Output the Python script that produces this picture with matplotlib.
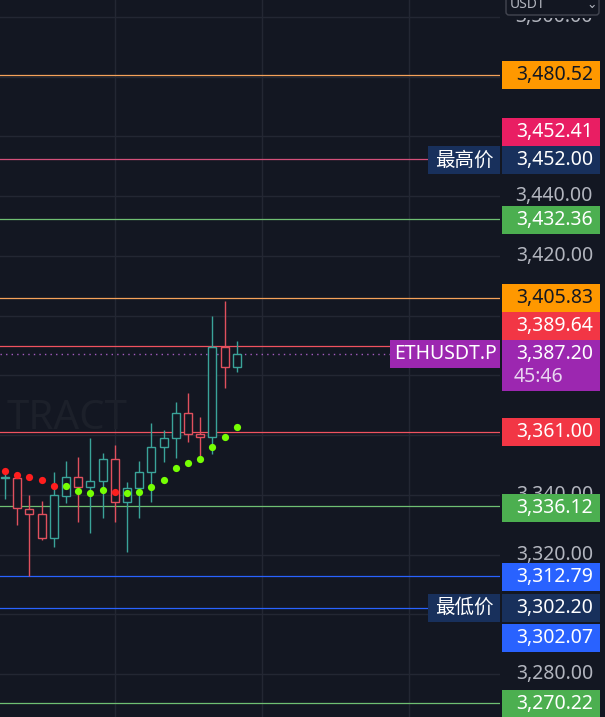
import matplotlib
matplotlib.use("Agg")
import matplotlib.pyplot as plt
from matplotlib.patches import Rectangle, FancyBboxPatch

plt.rcParams['font.family'] = ['Noto Sans', 'Noto Sans CJK SC', 'DejaVu Sans']

# ---------------- data ----------------
opens  = [3345.5, 3345.5, 3335.1, 3333.5, 3325.6, 3339.7, 3345.8, 3342.7, 3344.7, 3351.9,
          3337.5, 3342.4, 3347.5, 3355.9, 3358.9, 3367.3, 3360.2, 3359.3, 3389.3, 3382.7]
highs  = [3347.7, 3347.7, 3339.9, 3337.9, 3347.7, 3351.3, 3352.7, 3358.9, 3353.9, 3356.7,
          3344.2, 3351.3, 3363.9, 3361.7, 3370.9, 3374.0, 3365.9, 3399.8, 3404.9, 3391.5]
lows   = [3338.5, 3329.9, 3312.8, 3324.9, 3322.6, 3337.3, 3331.0, 3327.1, 3332.1, 3331.0,
          3320.9, 3332.3, 3337.5, 3351.1, 3352.2, 3357.8, 3352.2, 3353.5, 3375.8, 3381.2]
closes = [3345.9, 3335.5, 3333.5, 3325.4, 3339.9, 3345.8, 3342.7, 3344.7, 3351.9, 3337.5,
          3342.4, 3347.5, 3355.9, 3358.9, 3367.3, 3360.2, 3359.3, 3389.3, 3382.7, 3387.2]
sar_values = [3348.0, 3346.5, 3345.9, 3344.9, 3342.9, 3342.9, 3341.3, 3340.5, 3341.5, 3340.9,
              3340.7, 3340.9, 3342.7, 3345.0, 3348.9, 3350.7, 3351.9, 3356.1, 3359.4, 3362.8]
sar_up = [False, False, False, False, False, True, True, True, True, False,
          True, True, True, True, True, True, True, True, True, True]

level_values = [3480.52, 3452.41, 3432.36, 3405.83, 3389.64, 3361.00, 3336.12, 3312.79, 3302.07, 3270.22]
level_colors = ['#f5a25a', '#d4507a', '#6fbf72', '#f5a25a', '#f0525f', '#f0525f', '#6fbf72',
                '#2962ff', '#2962ff', '#6fbf72']
# price-scale labels: text, displayed position (stacked), box colour, text colour
label_texts  = ['3,480.52', '3,452.41', '3,452.00', '3,432.36', '3,405.83', '3,389.64',
                '3,361.00', '3,336.12', '3,312.79', '3,302.20', '3,302.07', '3,270.22']
label_pos    = [3480.52, 3461.4, 3451.9, 3432.1, 3406.0, 3396.5,
                3361.0, 3335.7, 3312.5, 3302.1, 3292.2, 3270.1]
label_colors = ['#ff9800', '#e91e63', '#18305c', '#4caf50', '#ff9800', '#f23645',
                '#f23645', '#4caf50', '#2962ff', '#18305c', '#2962ff', '#4caf50']
label_tcolors = ['#131722', 'white', 'white', 'white', '#131722', 'white',
                 'white', 'white', 'white', 'white', 'white', 'white']
tick_values = [3280, 3300, 3320, 3340, 3360, 3380, 3400, 3420, 3440, 3460, 3480, 3500]
high_name, high_price = '最高价', 3452.00
low_name, low_price = '最低价', 3302.20
symbol = 'ETHUSDT.P'
last_price = 3387.20
last_label = '3,387.20'
countdown = '45:46'

# ---------------- style ----------------
BG = '#131722'
GRID = '#232733'
UP = '#3aa399'
DOWN = '#e0505e'
YMIN, YMAX = 3265.61, 3505.61
W, H = 605, 717

fig = plt.figure(figsize=(W / 100, H / 100), dpi=100)
fig.patch.set_facecolor(BG)

ax = fig.add_axes([0, 0, 500 / W, 1])
ax.set_facecolor(BG)
ax.set_ylim(YMIN, YMAX)
ax.set_xlim(-0.41, 40.57)
for s in ax.spines.values():
    s.set_visible(False)
ax.set_yticks(tick_values)
ax.set_xticks([9.0, 21.05, 33.1])
ax.tick_params(left=False, bottom=False, labelleft=False, labelbottom=False)
ax.grid(True, color=GRID, linewidth=1.0)
ax.set_axisbelow(True)

# horizontal level lines
for v, c in zip(level_values, level_colors):
    ax.axhline(v, color=c, linewidth=0.9, zorder=2)
ax.axhline(last_price, color='#a35bbf', linewidth=1.0, linestyle=(0, (1, 3)), zorder=2)

# candles (hollow)
bw = 0.66
for i, (o, h, l, c) in enumerate(zip(opens, highs, lows, closes)):
    col = UP if c >= o else DOWN
    top, bot = max(o, c), min(o, c)
    ax.plot([i, i], [top, h], color=col, linewidth=1.0, zorder=3, solid_capstyle='butt')
    ax.plot([i, i], [l, bot], color=col, linewidth=1.0, zorder=3, solid_capstyle='butt')
    ax.add_patch(Rectangle((i - bw / 2, bot), bw, max(top - bot, 0.3), facecolor=BG,
                           edgecolor=col, linewidth=1.0, zorder=3))

# SAR dots
for i, (v, up) in enumerate(zip(sar_values, sar_up)):
    ax.plot(i, v, 'o', color='#76ff03' if up else '#ff1e1e', markersize=5.2,
            markeredgewidth=0, zorder=4)

# ---------------- overlay (pixels in x, prices in y) ----------------
ov = fig.add_axes([0, 0, 1, 1])
ov.set_xlim(0, W)
ov.set_ylim(YMIN, YMAX)
ov.axis('off')
ov.patch.set_alpha(0)
pxu = (YMAX - YMIN) / H   # price units per pixel
BH = 28 * pxu
FS = 14

# faint watermark
ov.text(128, YMAX - 419 * pxu, 'TRACT', ha='right', va='center', fontsize=29,
        color='#1c202a', zorder=0.5)

# tick labels on the price scale
for t in tick_values:
    ov.text(593, t, f'{t:,.2f}', ha='right', va='center', fontsize=FS, color='#b2b5be', zorder=1)

# label boxes
for txt, pos, bc, tc in zip(label_texts, label_pos, label_colors, label_tcolors):
    ov.add_patch(Rectangle((502, pos - BH / 2), 98, BH, facecolor=bc, edgecolor='none', zorder=2))
    ov.text(593, pos, txt, ha='right', va='center', fontsize=FS, color=tc, zorder=3)

# high / low name boxes
for name, price in [(high_name, label_pos[2]), (low_name, label_pos[9])]:
    ov.add_patch(Rectangle((428, price - BH / 2), 72, BH, facecolor='#18305c', edgecolor='none', zorder=2))
    ov.text(464, price, name, ha='center', va='center', fontsize=FS, color='white', zorder=3)

# current price box
ptop = last_price + 14 * pxu
pbox_h = 51 * pxu
ov.add_patch(Rectangle((502, ptop - pbox_h), 98, pbox_h, facecolor='#9c27b0', edgecolor='none', zorder=2))
ov.text(593, last_price - 0.5 * pxu, last_label, ha='right', va='center', fontsize=FS, color='white', zorder=3)
ov.text(514, last_price - 23 * pxu, countdown, ha='left', va='center', fontsize=FS, color='#e9d6f0', zorder=3)
ov.add_patch(Rectangle((390, last_price - BH / 2), 110, BH, facecolor='#9c27b0', edgecolor='none', zorder=2))
ov.text(445, last_price, symbol, ha='center', va='center', fontsize=FS, color='white', zorder=3)

# currency dropdown at top
ov.add_patch(Rectangle((500, YMAX - 18 * pxu), 105, 18 * pxu, facecolor=BG, edgecolor='none', zorder=4))
ov.add_patch(FancyBboxPatch((506, YMAX - 15 * pxu), 93, 25 * pxu,
                            boxstyle='round,pad=0,rounding_size=3', facecolor=BG,
                            edgecolor='#434651', linewidth=1.0, zorder=5,
                            mutation_aspect=pxu))
ov.text(510, YMAX - 4 * pxu, 'USDT', ha='left', va='center', fontsize=10, color='#b2b5be', zorder=6)
ov.text(592, YMAX - 5 * pxu, '⌄', ha='center', va='center', fontsize=9, color='#b2b5be',
        family='DejaVu Sans', zorder=6)

fig.savefig('out.png', dpi=100, facecolor=BG)
